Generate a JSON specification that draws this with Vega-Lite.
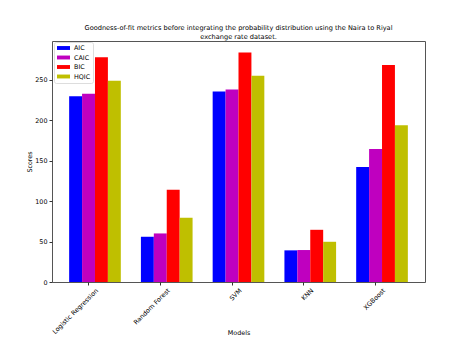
{
  "$schema": "https://vega.github.io/schema/vega-lite/v6.json",
  "autosize": "none",
  "width": 373,
  "height": 241,
  "padding": {"left": 52, "top": 41, "right": 33, "bottom": 62},
  "background": "white",
  "title": {
    "text": ["Goodness-of-fit metrics before integrating the probability distribution using the Naira to Riyal", "exchange rate dataset."],
    "fontSize": 6.6,
    "fontWeight": "normal",
    "font": "DejaVu Sans",
    "color": "#000",
    "anchor": "middle",
    "offset": 0.5,
    "lineHeight": 8.7
  },
  "data": {
    "values": [
      {"model": "Logistic Regression", "metric": "AIC", "score": 229.4},
      {"model": "Logistic Regression", "metric": "CAIC", "score": 232.7},
      {"model": "Logistic Regression", "metric": "BIC", "score": 277.8},
      {"model": "Logistic Regression", "metric": "HQIC", "score": 248.7},
      {"model": "Random Forest", "metric": "AIC", "score": 55.9},
      {"model": "Random Forest", "metric": "CAIC", "score": 60.0},
      {"model": "Random Forest", "metric": "BIC", "score": 113.9},
      {"model": "Random Forest", "metric": "HQIC", "score": 79.3},
      {"model": "SVM", "metric": "AIC", "score": 235.5},
      {"model": "SVM", "metric": "CAIC", "score": 238.0},
      {"model": "SVM", "metric": "BIC", "score": 283.6},
      {"model": "SVM", "metric": "HQIC", "score": 254.9},
      {"model": "KNN", "metric": "AIC", "score": 39.1},
      {"model": "KNN", "metric": "CAIC", "score": 39.5},
      {"model": "KNN", "metric": "BIC", "score": 64.5},
      {"model": "KNN", "metric": "HQIC", "score": 49.7},
      {"model": "XGBoost", "metric": "AIC", "score": 142.2},
      {"model": "XGBoost", "metric": "CAIC", "score": 164.4},
      {"model": "XGBoost", "metric": "BIC", "score": 268.0},
      {"model": "XGBoost", "metric": "HQIC", "score": 193.6}
    ]
  },
  "mark": {"type": "bar"},
  "encoding": {
    "x": {
      "field": "model",
      "type": "nominal",
      "sort": ["Logistic Regression", "Random Forest", "SVM", "KNN", "XGBoost"],
      "scale": {"paddingInner": 0.28, "paddingOuter": 0.239},
      "title": "Models",
      "axis": {
        "labelAngle": -45,
        "labelAlign": "right",
        "labelBaseline": "top",
        "bandPosition": 0.375,
        "domain": false,
        "tickSize": 3,
        "tickColor": "#333",
        "labelFontSize": 6.4,
        "labelFont": "DejaVu Sans",
        "labelColor": "#000",
        "labelPadding": 2,
        "titleFontSize": 6.4,
        "titleFont": "DejaVu Sans",
        "titleFontWeight": "normal",
        "titleColor": "#000",
        "titleY": 50,
        "titleBaseline": "middle"
      }
    },
    "xOffset": {
      "field": "metric",
      "type": "nominal",
      "sort": ["AIC", "CAIC", "BIC", "HQIC"],
      "scale": {"paddingInner": 0, "paddingOuter": 0}
    },
    "y": {
      "field": "score",
      "type": "quantitative",
      "title": "Scores",
      "scale": {"domain": [0, 297.8], "nice": false},
      "axis": {
        "values": [0, 50, 100, 150, 200, 250],
        "grid": false,
        "domain": false,
        "tickSize": 3,
        "tickColor": "#333",
        "labelFontSize": 6.4,
        "labelFont": "DejaVu Sans",
        "labelColor": "#000",
        "labelPadding": 2,
        "titleFontSize": 6.4,
        "titleFont": "DejaVu Sans",
        "titleFontWeight": "normal",
        "titleColor": "#000",
        "titlePadding": 2
      }
    },
    "color": {
      "field": "metric",
      "type": "nominal",
      "sort": ["AIC", "CAIC", "BIC", "HQIC"],
      "scale": {"domain": ["AIC", "CAIC", "BIC", "HQIC"], "range": ["#0000ff", "#bf00bf", "#ff0000", "#bfbf00"]},
      "legend": {
        "title": null,
        "orient": "none",
        "legendX": 2,
        "legendY": 1,
        "symbolType": "M-2,-0.6L2,-0.6L2,0.6L-2,0.6Z",
        "symbolSize": 42.25,
        "symbolOffset": 3.5,
        "symbolStrokeWidth": 0,
        "symbolOpacity": 1,
        "labelFontSize": 6.4,
        "labelFont": "DejaVu Sans",
        "labelColor": "#000",
        "rowPadding": 2.5,
        "columnPadding": 0,
        "labelOffset": 7,
        "padding": 2.5,
        "strokeColor": "#ddd",
        "fillColor": "white",
        "cornerRadius": 2
      }
    }
  },
  "config": {
    "view": {"stroke": "#555", "strokeWidth": 1},
    "bar": {"stroke": null}
  }
}
